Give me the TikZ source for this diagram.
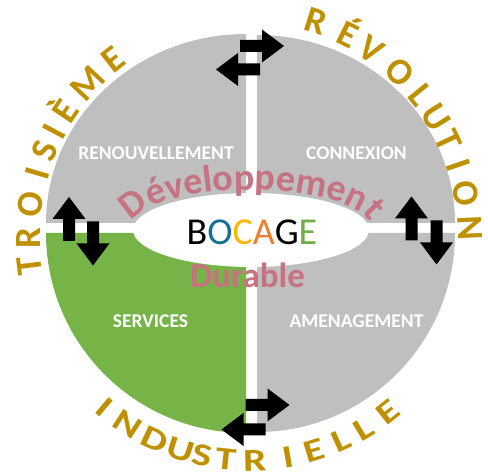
\documentclass[tikz,border=0pt]{standalone}
\usepackage{fontspec}
\setmainfont{Carlito}
\usetikzlibrary{shapes.geometric, decorations.text}
\definecolor{quadgrey}{RGB}{191,191,191}
\definecolor{quadgreen}{RGB}{118,180,72}
\definecolor{ringgold}{RGB}{191,144,0}
\definecolor{devpink}{RGB}{199,114,129}
\definecolor{bocblue}{RGB}{20,110,150}
\definecolor{bocyellow}{RGB}{255,180,0}
\definecolor{bocorange}{RGB}{237,125,49}
\definecolor{bocgreen}{RGB}{112,173,71}
\tikzset{
quadlabel/.style={text=white, font=\fontsize{19.5}{20}\selectfont\bfseries, inner sep=0pt}, % white words in the quarters
ringletter/.style={text=ringgold, font=\fontsize{37}{37}\selectfont\bfseries, inner sep=0pt, anchor=base}, % letters round the ring
lowletter/.style={ringletter, font=\fontsize{32}{32}\selectfont\bfseries}, % the lower word is set a bit smaller
blockarr/.pic={\fill[black] (-22,-6) -- (0,-6) -- (0,-16.5) -- (22,0) -- (0,16.5) -- (0,6) -- (-22,6) -- cycle;}, % one fat arrow pointing right
}

\begin{document}
\begin{tikzpicture}[x=1pt, y=1pt]
    \useasboundingbox (0,0) rectangle (488,476);
    %% the four quarters
    \fill[quadgrey] (246,253) -- (46,253) arc[start angle=180, end angle=90, x radius=200, y radius=189] -- cycle;
    \fill[quadgrey] (257,253) -- (257,441) arc[start angle=90, end angle=0, x radius=198, y radius=188] -- cycle;
    \fill[quadgreen] (246,243) -- (46,243) arc[start angle=180, end angle=270, x radius=200, y radius=200] -- cycle;
    \fill[quadgrey] (257,243) -- (455,243) arc[start angle=0, end angle=-90, x radius=198, y radius=199] -- cycle;

    \node[quadlabel] (renouv) at (156,322.5) {RENOUVELLEMENT};
    \node[quadlabel] (connex) at (356.5,322.5) {CONNEXION};
    \node[quadlabel] (servic) at (150.5,155) {SERVICES};
    \node[quadlabel] (amenag) at (356.5,155) {AMENAGEMENT};

    %% the middle
    \node[ellipse, fill=white, minimum width=236pt, minimum height=74pt, inner sep=0pt] (core) at (251,246) {};
    \node[font=\fontsize{38}{38}\selectfont, inner sep=0pt] (bocage) at (252,244)
        {B\textcolor{bocblue}{O}\textcolor{bocyellow}{C}\textcolor{bocorange}{A}G\textcolor{bocgreen}{E}};
    \path[decorate, decoration={text along path, text align=center,
        text={|\fontsize{38}{38}\selectfont\bfseries\color{devpink}|Développement}}]
        (131,248) arc[start angle=180, end angle=0, x radius=120, y radius=38];
    \node[anchor=base, text=devpink, font=\fontsize{35}{35}\selectfont\bfseries, inner sep=0pt] (durable) at (247.5,188) {Durable};

    %% arrows between the quarters
    \pic at (262,430) {blockarr};
    \pic[rotate=180] at (238,406.5) {blockarr};
    \pic at (267.5,71) {blockarr};
    \pic[rotate=180] at (243.5,46.5) {blockarr};
    \pic[rotate=90] at (69,257) {blockarr};
    \pic[rotate=-90] at (93,232.5) {blockarr};
    \pic[rotate=90] at (411.5,257.5) {blockarr};
    \pic[rotate=-90] at (436.5,233.5) {blockarr};

    %% the ring of words
    \begin{scope}[shift={(249,238)}]
        \foreach \ch/\ang [count=\i] in {T/187,R/180,O/171.6,I/163.5,S/157.5,I/152,È/146,M/137,E/128,
            R/72.4,É/63.5,V/56.3,O/47,L/39,U/32,T/25.4,I/18.8,O/11.2,N/2.6}
            \node[ringletter, rotate=\ang-90] (up\i) at ({209*cos(\ang)},{215*sin(\ang)}) {\ch};
        \foreach \ch/\ang [count=\i] in {I/229.5,N/237,D/245,U/252,S/258,T/264,R/271.5,I/280,E/287,L/294.5,L/301,E/308.5}
            \node[lowletter, rotate=\ang+90, xscale=1.3] (low\i) at (\ang:233) {\ch};
    \end{scope}
\end{tikzpicture}
\end{document}
